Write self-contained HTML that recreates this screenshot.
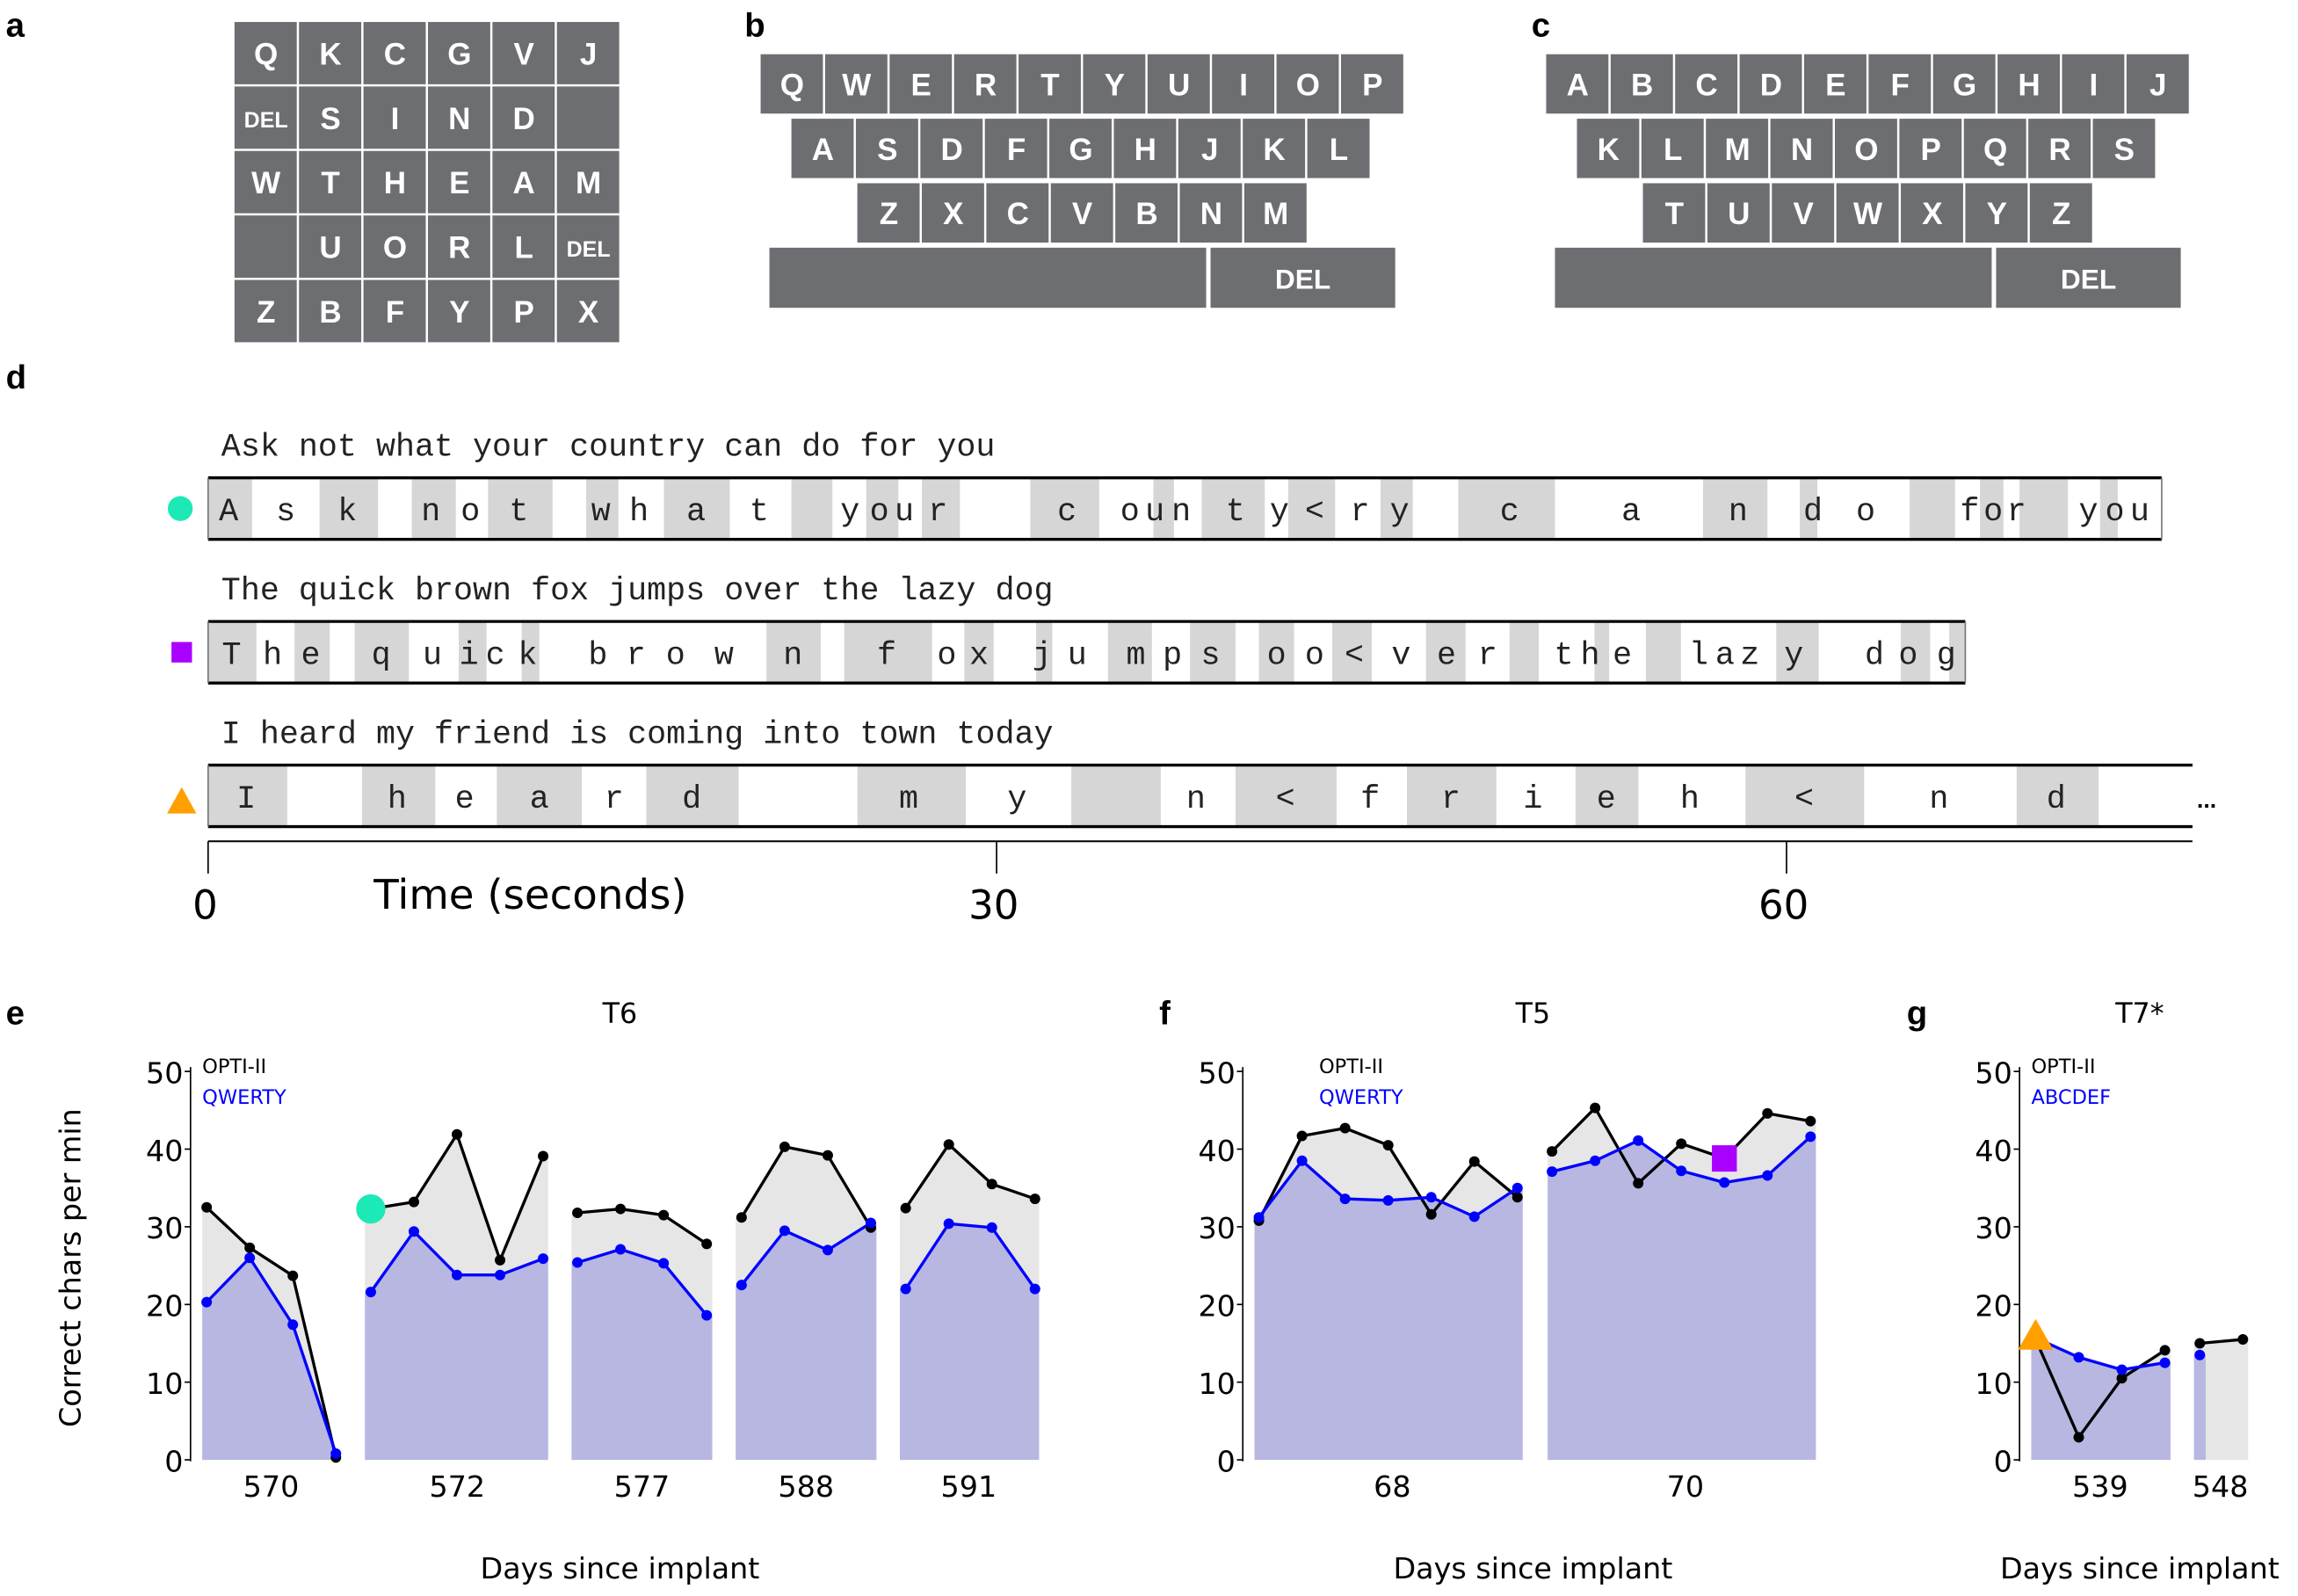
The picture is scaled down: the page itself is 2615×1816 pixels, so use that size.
<!DOCTYPE html>
<html><head><meta charset="utf-8">
<style>
html,body{margin:0;padding:0;background:#fff;}
svg{display:block;}
.key{fill:#6d6e72;}
.kt{fill:#fff;font-family:"Liberation Sans",sans-serif;font-weight:bold;text-anchor:middle;}
.lab{font-family:"Liberation Sans",sans-serif;font-weight:bold;font-size:23px;}
.mono{font-family:"Liberation Mono",monospace;font-size:22px;fill:#222;}
.sans{font-family:"DejaVu Sans","Liberation Sans",sans-serif;}
</style></head>
<body>
<svg id="fig" width="2615" height="1816" viewBox="0 0 1568 1088.9" preserveAspectRatio="none" xmlns="http://www.w3.org/2000/svg">
<g id="keyboards"></g>
<g id="typing"></g>
<g id="charts"></g>
</svg>
<script>
// ---------- chart data ----------
const eDays = ['570','572','577','588','591'];
const eOpti = [[32.5,27.3,23.7,0.3],[32.3,33.2,41.9,25.7,39.1],[31.8,32.3,31.5,27.8],[31.2,40.3,39.2,29.9],[32.4,40.6,35.5,33.6]];
const eQwerty = [[20.3,26.0,17.4,0.8],[21.6,29.4,23.8,23.8,25.9],[25.4,27.1,25.3,18.6],[22.5,29.5,27.0,30.5],[22.0,30.4,29.9,22.0]];
const fDays = ['68','70'];
const fOpti = [[30.8,41.7,42.7,40.5,31.6,38.4,33.8],[39.7,45.3,35.6,40.7,38.8,44.6,43.6]];
const fQwerty = [[31.2,38.5,33.6,33.4,33.8,31.3,35.0],[37.1,38.5,41.1,37.2,35.7,36.6,41.6]];
const gDays = ['539','548'];
const gOpti = [[15.5,2.9,10.5,14.1],[15.0,15.5]];
const gAbc = [[15.7,13.2,11.6,12.5],[13.5]];
const yTicks = [0,10,20,30,40,50];

const NS='http://www.w3.org/2000/svg';
function mk(parent,tag,attrs,text){const e=document.createElementNS(NS,tag);for(const k in attrs)e.setAttribute(k,attrs[k]);if(text!==undefined)e.textContent=text;parent.appendChild(e);return e;}

// ---------- keyboards ----------
const kb=document.getElementById('keyboards');
const gridA=[['Q','K','C','G','V','J'],['DEL','S','I','N','D',''],['W','T','H','E','A','M'],['','U','O','R','L','DEL'],['Z','B','F','Y','P','X']];
gridA.forEach((row,r)=>row.forEach((ch,c)=>{
  const x=160+c*44,y=15+r*44;
  const k=mk(kb,'rect',{x:x,y:y,width:42.5,height:42.5,class:'key'});
  
  
  if(ch){const t=mk(kb,'text',{x:x+21.5,y:y+(ch==='DEL'?28:29),class:'kt','font-size':ch==='DEL'?15:21},ch);
  }
}));
function kbRows(x0,rows,space,del){
  rows.forEach((r)=>{[...r.k].forEach((ch,i)=>{
    const x=r.x+i*44,y=r.y;
    const k=mk(kb,'rect',{x:x,y:y,width:42.5,height:40.5,class:'key'});
    
    
    const t=mk(kb,'text',{x:x+21.5,y:y+28,class:'kt','font-size':21},ch);
    
  });});
  const s=mk(kb,'rect',{x:space[0],y:169,width:space[1]-space[0],height:41,class:'key'});
  
  const d=mk(kb,'rect',{x:del[0],y:169,width:del[1]-del[0],height:41,class:'key'});
  
  const t=mk(kb,'text',{x:(del[0]+del[1])/2,y:197,class:'kt','font-size':19},'DEL');
  
}
kbRows(0,[{k:'QWERTYUIOP',x:519,y:37},{k:'ASDFGHJKL',x:540,y:81},{k:'ZXCVBNM',x:585,y:125}],[525,823],[826,952]);
kbRows(0,[{k:'ABCDEFGHIJ',x:1055,y:37},{k:'KLMNOPQRS',x:1076,y:81},{k:'TUVWXYZ',x:1121,y:125}],[1061,1359],[1362,1488]);
[['a',4,25],['b',508,25],['c',1045,25],['d',4,265],['e',4,699],['f',791,699],['g',1301,699]].forEach(p=>{
  const t=mk(kb,'text',{x:p[1],y:p[2],class:'lab'},p[0]);
  
});

// ---------- typing timeline ----------
const tp=document.getElementById('typing');
const rows=[
 {prompt:'Ask not what your country can do for you',y:326,x1:1475,
  gray:[[142,172],[218,258],[281,311],[333,377],[400,422],[453,498],[540,568],[591,613],[629,655],[703,750],[787,801],[820,863],[879,911],[942,964],[995,1061],[1162,1206],[1228,1240],[1303,1334],[1351,1367],[1378,1411],[1433,1445]],
  chars:'A s k n o t w h a t y o u r c o u n t y < r y c a n d o f o r y o u',
  cx:[156,195,237,294,321,354,410,436,475,518,580,600,617,640,728,771,788,806,843,873,897,928,955,1030,1113,1186,1237,1273,1344,1360,1376,1425,1443,1460]},
 {prompt:'The quick brown fox jumps over the lazy dog',y:424,x1:1341,
  gray:[[142,175],[201,225],[242,279],[313,332],[356,368],[523,560],[576,636],[658,678],[707,718],[756,786],[812,843],[859,883],[909,936],[973,1000],[1030,1050],[1088,1098],[1123,1147],[1212,1241],[1297,1317],[1330,1341]],
  chars:'T h e q u i c k b r o w n f o x j u m p s o o < v e r t h e l a z y d o g',
  cx:[158,186,212,260,295,320,338,360,408,434,461,494,541,605,646,668,711,735,775,800,826,871,897,924,956,987,1015,1067,1085,1107,1159,1177,1194,1224,1279,1302,1328]},
 {prompt:'I heard my friend is coming into town today',y:522,x1:1496,
  gray:[[142,196],[247,297],[339,397],[441,504],[585,659],[731,792],[843,912],[960,1021],[1075,1118],[1191,1272],[1376,1432]],
  chars:'I h e a r d m y n < f r i e h < n d',
  cx:[168,271,317,368,419,472,620,694,816,877,935,990,1046,1096,1153,1231,1323,1403]}
];
rows.forEach((r,ri)=>{
  const pt=mk(tp,'text',{x:151,y:r.y-15,class:'mono'},r.prompt);
  
  r.gray.forEach(g=>{const b=mk(tp,'rect',{x:g[0],y:r.y,width:g[1]-g[0],height:42,fill:'#d6d6d6'});
    });
  mk(tp,'line',{x1:142,x2:r.x1,y1:r.y,y2:r.y,stroke:'#000','stroke-width':2});
  mk(tp,'line',{x1:142,x2:r.x1,y1:r.y+42,y2:r.y+42,stroke:'#000','stroke-width':2});
  mk(tp,'line',{x1:142,x2:142,y1:r.y,y2:r.y+42,stroke:'#777','stroke-width':1});
  if(ri<2) mk(tp,'line',{x1:r.x1,x2:r.x1,y1:r.y,y2:r.y+42,stroke:'#777','stroke-width':1});
  r.chars.split(' ').forEach((c,i)=>{const t=mk(tp,'text',{x:r.cx[i],y:r.y+29,class:'mono','text-anchor':'middle'},c);
    });
});
let m=mk(tp,'circle',{cx:123,cy:347,r:8.5,fill:'#1de9b6'});
m=mk(tp,'rect',{x:117,y:438,width:14,height:14,fill:'#aa00ff'});
m=mk(tp,'polygon',{points:'124,537 114,555 134,555',fill:'#ffa000'});
let t=mk(tp,'text',{x:1499,y:551,'font-family':'Liberation Sans','font-size':16,'font-weight':'bold'},'...');
mk(tp,'line',{x1:142,x2:1496,y1:574,y2:574,stroke:'#000','stroke-width':1.2});
[[142,'0'],[680,'30'],[1219,'60']].forEach(a=>{mk(tp,'line',{x1:a[0],x2:a[0],y1:574,y2:596,stroke:'#000','stroke-width':1});
  const l=mk(tp,'text',{x:a[0]-2,y:627,class:'sans','font-size':27,'text-anchor':'middle'},a[1]);});
t=mk(tp,'text',{x:255,y:620,class:'sans','font-size':28},'Time (seconds)');

// ---------- charts ----------
const ch=document.getElementById('charts');
const y=v=>996-v*5.3;
const STEP=29.4;
function panel(o){
  const g=mk(ch,'g',{});
  mk(g,'line',{x1:o.ax,x2:o.ax,y1:728,y2:997,stroke:'#000','stroke-width':1});
  yTicks.forEach(v=>{mk(g,'line',{x1:o.ax-4,x2:o.ax,y1:y(v),y2:y(v),stroke:'#000','stroke-width':1});
    const l=mk(g,'text',{x:o.ax-5,y:y(v)+8,class:'sans','font-size':20,'text-anchor':'end'},v);});
  o.days.forEach((d,i)=>{
    const L=o.lay[i],black=o.a[i],blue=o.b[i];
    const bp=black.map((v,j)=>[L[2]+j*STEP,y(v)]), up=blue.map((v,j)=>[L[2]+j*STEP,y(v)]);
    const gp=[[L[0],996],[L[0],bp[0][1]],...bp,[L[1],bp[bp.length-1][1]],[L[1],996]];
    let e=mk(g,'polygon',{points:gp.map(p=>p.join(',')).join(' '),fill:'#e6e6e6'});
    const ur=up.length<bp.length?Math.min(L[1],up[up.length-1][0]+4):L[1];
    const lp=[[L[0],996],[L[0],up[0][1]],...up,[ur,up[up.length-1][1]],[ur,996]];
    e=mk(g,'polygon',{points:lp.map(p=>p.join(',')).join(' '),fill:'#b7b7e2'});
    e=mk(g,'polyline',{points:bp.map(p=>p.join(',')).join(' '),fill:'none',stroke:'#000','stroke-width':2});
    e=mk(g,'polyline',{points:up.map(p=>p.join(',')).join(' '),fill:'none',stroke:'#0000ff','stroke-width':2});
    bp.forEach(p=>{const c=mk(g,'circle',{cx:p[0],cy:p[1],r:3.6,fill:'#000'});});
    up.forEach(p=>{const c=mk(g,'circle',{cx:p[0],cy:p[1],r:3.6,fill:'#0000ff'});});
    const l=mk(g,'text',{x:o.lx[i],y:1021,class:'sans','font-size':20,'text-anchor':'middle'},d);
    if(o.marker&&o.marker.i===i){const p=bp[o.marker.j];o.marker.draw(g,p);}
  });
  let e=mk(g,'text',{x:o.lg,y:732,class:'sans','font-size':13.5},'OPTI-II');
  e=mk(g,'text',{x:o.lg,y:753,class:'sans','font-size':13.5,fill:'#0000ff'},o.alt);
  e=mk(g,'text',{x:o.tx,y:698,class:'sans','font-size':19,'text-anchor':'middle'},o.title);
  e=mk(g,'text',{x:o.tx,y:1077,class:'sans','font-size':20,'text-anchor':'middle'},'Days since implant');
}
panel({key:'e',ax:130,days:eDays,a:eOpti,b:eQwerty,lay:[[138,230,141],[249,374,253],[390,486,394],[502,598,506],[614,709,618]],lx:[185,312,438,550,661],lg:138,alt:'QWERTY',title:'T6',tx:423,
  marker:{i:1,j:0,draw:(g,p)=>{const c=mk(g,'circle',{cx:p[0],cy:p[1],r:10,fill:'#1de9b6'});}}});
panel({key:'f',ax:848,days:fDays,a:fOpti,b:fQwerty,lay:[[856,1039,859],[1056,1239,1059]],lx:[950,1150],lg:900,alt:'QWERTY',title:'T5',tx:1046,
  marker:{i:1,j:4,draw:(g,p)=>{const c=mk(g,'rect',{x:p[0]-8.5,y:p[1]-9,width:17,height:18,fill:'#aa00ff'});}}});
panel({key:'g',ax:1378,days:gDays,a:gOpti,b:gAbc,lay:[[1386,1481,1389],[1497,1534,1501]],lx:[1433,1515],lg:1386,alt:'ABCDEF',title:'T7*',tx:1460,
  marker:{i:0,j:0,draw:(g,p)=>{const c=mk(g,'polygon',{points:`${p[0]},${p[1]-14} ${p[0]-12},${p[1]+7} ${p[0]+12},${p[1]+7}`,fill:'#ffa000'});}}});
t=mk(ch,'text',{transform:'translate(55,865) rotate(-90)',class:'sans','font-size':20,'text-anchor':'middle'},'Correct chars per min');


</script>
</body></html>
